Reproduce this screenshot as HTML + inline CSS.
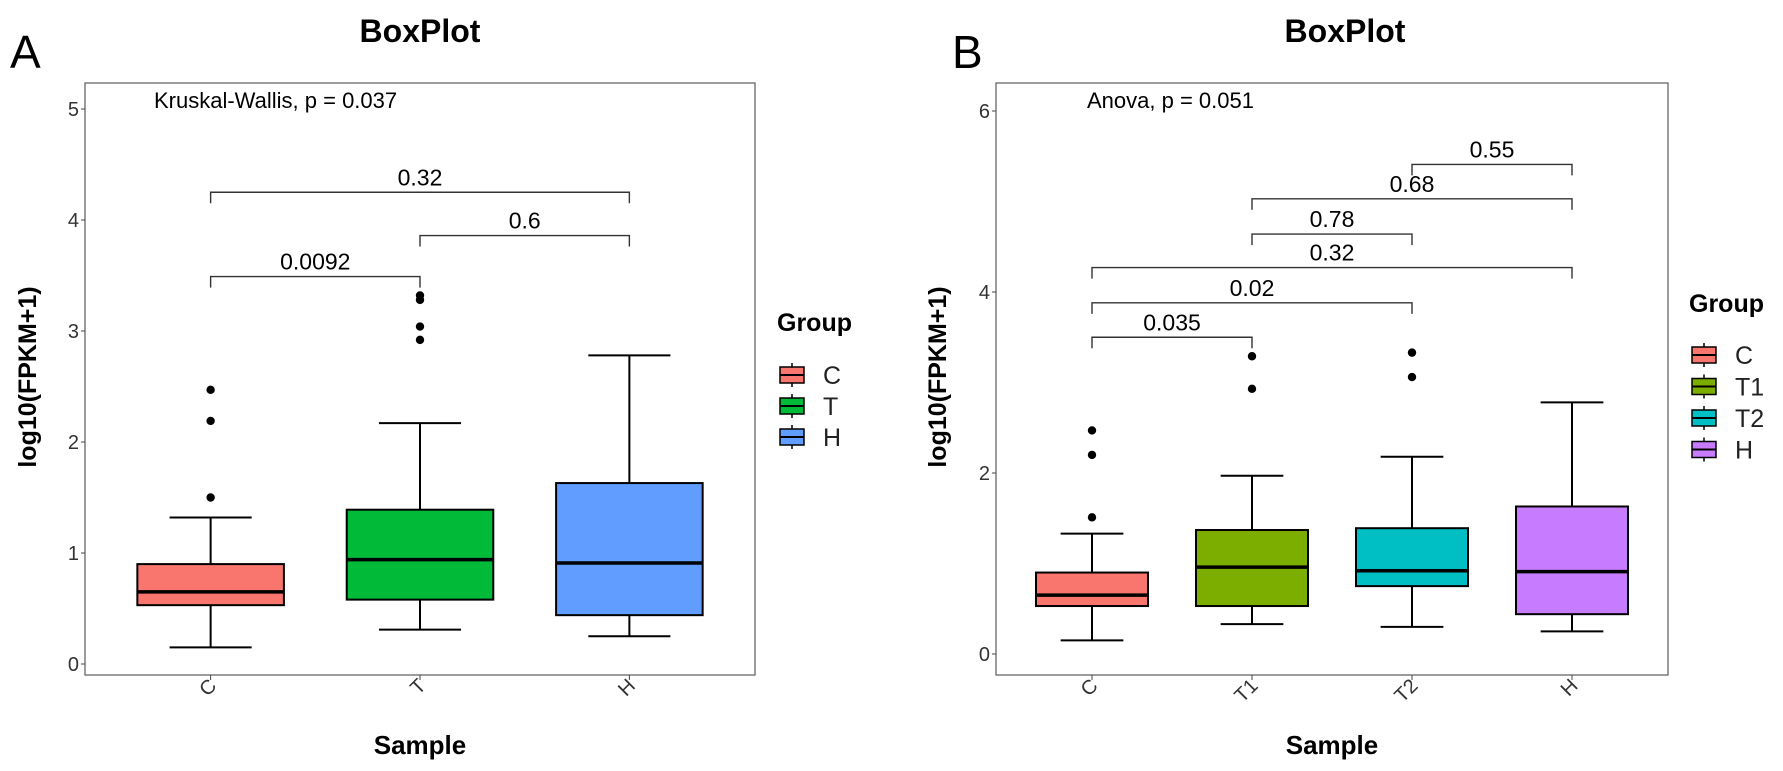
<!DOCTYPE html>
<html><head><meta charset="utf-8">
<style>
html,body{margin:0;padding:0;background:#fff;}
svg{display:block;font-family:"Liberation Sans",Arial,sans-serif;}
</style></head>
<body>
<svg id="chart" width="1783" height="771" viewBox="0 0 1783 771" xmlns="http://www.w3.org/2000/svg">
<rect x="0" y="0" width="1783" height="771" fill="#fff"/>
</svg>
<script>
// ---- Panel A data ----
const catsA = ["C","T","H"];
const colorsA = ["#F8766D","#00BA38","#619CFF"];
const lowA = [0.15,0.31,0.25];
const q1A = [0.53,0.58,0.44];
const medA = [0.65,0.94,0.91];
const q3A = [0.9,1.39,1.63];
const highA = [1.32,2.17,2.78];
const outA = [[2.47,2.19,1.5],[3.32,3.28,3.04,2.92],[]];
const ticksA = [0,1,2,3,4,5];
const brLabelsA = ["0.0092","0.6","0.32"];
const brFromA = [0,1,0];
const brToA = [1,2,2];
const brYA = [3.49,3.86,4.25];

// ---- Panel B data ----
const catsB = ["C","T1","T2","H"];
const colorsB = ["#F8766D","#7CAE00","#00BFC4","#C77CFF"];
const lowB = [0.15,0.33,0.3,0.25];
const q1B = [0.53,0.53,0.75,0.44];
const medB = [0.65,0.96,0.92,0.91];
const q3B = [0.9,1.37,1.39,1.63];
const highB = [1.33,1.97,2.18,2.78];
const outB = [[2.47,2.2,1.51],[3.29,2.93],[3.33,3.06],[]];
const ticksB = [0,2,4,6];
const brLabelsB = ["0.035","0.02","0.32","0.78","0.68","0.55"];
const brFromB = [0,0,0,1,1,2];
const brToB = [1,2,3,2,3,3];
const brYB = [3.50,3.88,4.27,4.64,5.03,5.41];

const NS="http://www.w3.org/2000/svg";
const svg=document.getElementById('chart');
function el(tag,attrs,parent,text){
  const e=document.createElementNS(NS,tag);
  for(const k in attrs)e.setAttribute(k,attrs[k]);
  if(text!==undefined)e.textContent=text;
  (parent||svg).appendChild(e);return e;
}

function panel(cfg){
  const g=el('g',{});
  
  
  const L=cfg.left,R=cfg.right,T=83,B=675;
  const n=cfg.cats.length;
  const unit=(R-L)/(n-1+1.2);
  const xs=i=>L+unit*(0.6+i);
  const ys=v=>cfg.y0-cfg.k*v;
  const bw=unit*0.7;
  const pl=el('text',{x:cfg.letterX,y:68,'font-size':46,fill:'#000'},g,cfg.letter);
  
  
  const tt=el('text',{x:cfg.titleX,y:42,'font-size':32,'font-weight':'bold','text-anchor':'middle'},g,'BoxPlot');
  
  
  const fr=el('rect',{x:L,y:T,width:R-L,height:B-T,fill:'none',stroke:'#666','stroke-width':1.3},g);
  
  
  cfg.ticks.forEach(t=>{
    const y=ys(t);
    el('line',{x1:L-4,x2:L,y1:y,y2:y,stroke:'#444','stroke-width':1},g);
    const tl=el('text',{x:L-6,y:y+7,'font-size':20,'text-anchor':'end',fill:'#333'},g,String(t));
    
    
  });
  const yt=el('text',{x:0,y:0,'font-size':25,'font-weight':'bold','text-anchor':'middle',transform:`translate(${cfg.ytX},377) rotate(-90)`},g,'log10(FPKM+1)');
  
  
  const xt=el('text',{x:(L+R)/2,y:754,'font-size':26,'font-weight':'bold','text-anchor':'middle'},g,'Sample');
  
  
  const st=el('text',{x:cfg.statX,y:108,'font-size':22},g,cfg.stat);
  
  
  cfg.cats.forEach((c,i)=>{
    const x=xs(i);
    const bg=el('g',{},g);
    
    
    const cw=bw*0.28;
    el('line',{x1:x,x2:x,y1:ys(cfg.high[i]),y2:ys(cfg.q3[i]),stroke:'#000','stroke-width':2},bg);
    el('line',{x1:x,x2:x,y1:ys(cfg.q1[i]),y2:ys(cfg.low[i]),stroke:'#000','stroke-width':2},bg);
    el('line',{x1:x-cw,x2:x+cw,y1:ys(cfg.high[i]),y2:ys(cfg.high[i]),stroke:'#000','stroke-width':2},bg);
    el('line',{x1:x-cw,x2:x+cw,y1:ys(cfg.low[i]),y2:ys(cfg.low[i]),stroke:'#000','stroke-width':2},bg);
    el('rect',{x:x-bw/2,y:ys(cfg.q3[i]),width:bw,height:ys(cfg.q1[i])-ys(cfg.q3[i]),fill:cfg.colors[i],stroke:'#000','stroke-width':2},bg);
    el('line',{x1:x-bw/2,x2:x+bw/2,y1:ys(cfg.med[i]),y2:ys(cfg.med[i]),stroke:'#000','stroke-width':3.5},bg);
    cfg.out[i].forEach(v=>{
      const o=el('circle',{cx:x,cy:ys(v),r:4.2,fill:'#000'},bg);
      
      
    });
    el('line',{x1:x,x2:x,y1:B,y2:B+5,stroke:'#444','stroke-width':1},g);
    const xl=el('text',{x:0,y:0,'font-size':20,'text-anchor':'end',fill:'#333',transform:`translate(${x+7},${B+12}) rotate(-45)`},g,c);
    
    
  });
  cfg.brLabels.forEach((lab,j)=>{
    const x1=xs(cfg.brFrom[j]),x2=xs(cfg.brTo[j]),y=ys(cfg.brY[j]);
    const p=el('path',{d:`M${x1},${y+11}V${y}H${x2}V${y+11}`,fill:'none',stroke:'#333','stroke-width':1.4},g);
    
    
    const t=el('text',{x:(x1+x2)/2,y:y-7,'font-size':23,'text-anchor':'middle'},g,lab);
    
    
  });
  const lg=el('g',{},g);
  
  
  el('text',{x:cfg.legX,y:cfg.legTitleY+9,'font-size':25,'font-weight':'bold'},lg,'Group');
  cfg.cats.forEach((c,i)=>{
    const cy=cfg.legY0+i*cfg.legDy, kx=cfg.legX+3;
    const it=el('g',{},lg);
    
    
    el('line',{x1:kx+12,x2:kx+12,y1:cy-12,y2:cy+12,stroke:'#000','stroke-width':1.5},it);
    el('rect',{x:kx,y:cy-8,width:24,height:16,fill:cfg.colors[i],stroke:'#000','stroke-width':1.5},it);
    el('line',{x1:kx,x2:kx+24,y1:cy,y2:cy,stroke:'#000','stroke-width':2},it);
    el('text',{x:cfg.legX+46,y:cy+9,'font-size':25,fill:'#222'},it,c);
  });
}

panel({name:'panel-a',letter:'A',letterX:10,titleX:420,left:85,right:755,y0:664,k:111,
  cats:catsA,colors:colorsA,low:lowA,q1:q1A,med:medA,q3:q3A,high:highA,out:outA,ticks:ticksA,
  brLabels:brLabelsA,brFrom:brFromA,brTo:brToA,brY:brYA,stat:'Kruskal-Wallis, p = 0.037',statX:154,
  ytX:36,legX:777,legTitleY:322,legY0:375,legDy:31});
panel({name:'panel-b',letter:'B',letterX:952,titleX:1345,left:996,right:1668,y0:654,k:90.5,
  cats:catsB,colors:colorsB,low:lowB,q1:q1B,med:medB,q3:q3B,high:highB,out:outB,ticks:ticksB,
  brLabels:brLabelsB,brFrom:brFromB,brTo:brToB,brY:brYB,stat:'Anova, p = 0.051',statX:1087,
  ytX:946,legX:1689,legTitleY:303,legY0:355,legDy:31.5});
</script>
</body></html>
